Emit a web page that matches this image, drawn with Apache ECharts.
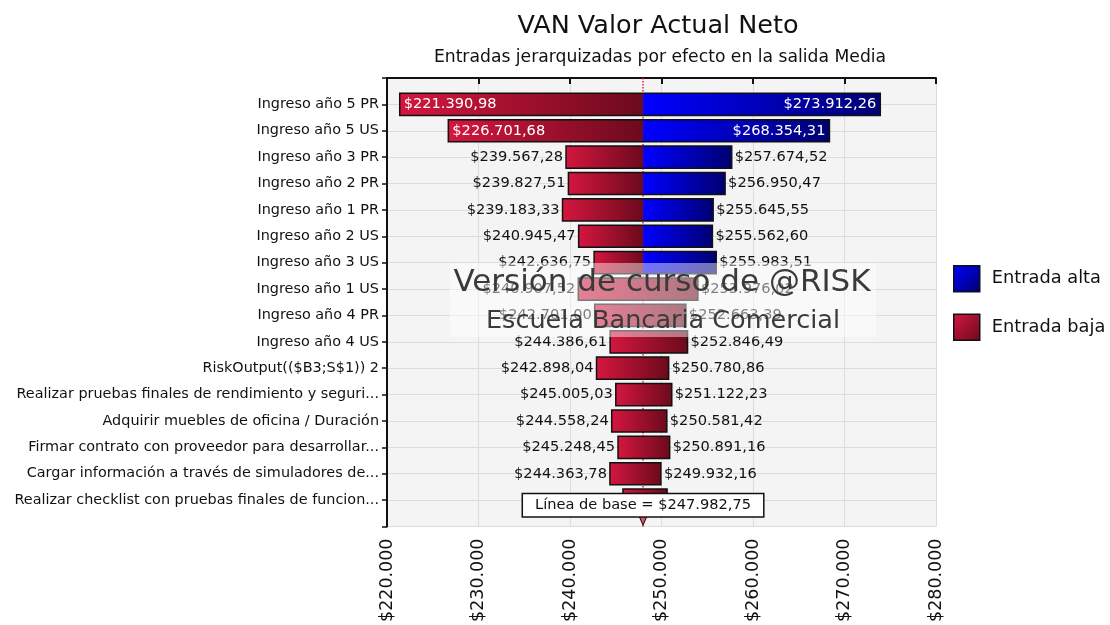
<!DOCTYPE html>
<html>
<head>
<meta charset="utf-8">
<script src="https://cdn.jsdelivr.net/npm/echarts@6/dist/echarts.min.js"></script>
<style>
  html, body { margin: 0; padding: 0; background: #fff; }
  #chart { width: 1110px; height: 625px; }
</style>
</head>
<body>
<div id="chart"></div>
<script>
// datos del tornado
const categories = [
  'Ingreso año 5 PR',
  'Ingreso año 5 US',
  'Ingreso año 3 PR',
  'Ingreso año 2 PR',
  'Ingreso año 1 PR',
  'Ingreso año 2 US',
  'Ingreso año 3 US',
  'Ingreso año 1 US',
  'Ingreso año 4 PR',
  'Ingreso año 4 US',
  'RiskOutput(($B3;S$1)) 2',
  'Realizar pruebas finales de rendimiento y seguri...',
  'Adquirir muebles de oficina / Duración',
  'Firmar contrato con proveedor para desarrollar...',
  'Cargar información a través de simuladores de...',
  'Realizar checklist con pruebas finales de funcion...'
];
const lowValues = [221390.98, 226701.68, 239567.28, 239827.51, 239183.33, 240945.47, 242636.75, 240907.52,
  242701.00, 244386.61, 242898.04, 245005.03, 244558.24, 245248.45, 244363.78, 245790.12];
const highValues = [273912.26, 268354.31, 257674.52, 256950.47, 255645.55, 255562.60, 255983.51, 253976.02,
  252663.39, 252846.49, 250780.86, 251122.23, 250581.42, 250891.16, 249932.16, 250610.47];
// filas donde toda la barra es "Entrada baja"
const lowOnly = [0, 0, 0, 0, 0, 0, 0, 1, 1, 1, 1, 1, 1, 1, 1, 1];
const baseValue = 247982.75;
const xTicks = [220000, 230000, 240000, 250000, 260000, 270000, 280000];

const FONT = '"DejaVu Sans", Verdana, sans-serif';

function money(v, dec) {
  const parts = v.toFixed(dec).split('.');
  const ip = parts[0].replace(/\B(?=(\d{3})+$)/g, '.');
  return '$' + ip + (dec ? ',' + parts[1] : '');
}

const redGrad = () => new echarts.graphic.LinearGradient(0, 0, 1, 0, [
  { offset: 0, color: '#d4163f' }, { offset: 1, color: '#6c0a1c' }]);
const blueGrad = () => new echarts.graphic.LinearGradient(0, 0, 1, 0, [
  { offset: 0, color: '#0000ff' }, { offset: 1, color: '#000072' }]);

const rows = categories.map((c, i) => [i, lowValues[i], highValues[i], lowOnly[i]]);

function barBox(api) {
  const y = api.value(0) + 1;
  const pl = api.coord([api.value(1), y]);
  const pb = api.coord([baseValue, y]);
  const ph = api.coord([api.value(2), y]);
  const h = api.size([0, 1])[1] * 0.84;
  return { pl, pb, ph, h, top: pl[1] - h / 2, cy: pl[1], left0: api.coord([xTicks[0], y])[0] };
}

const chart = echarts.init(document.getElementById('chart'));
chart.setOption({
  animation: false,
  textStyle: { fontFamily: FONT },
  graphic: [
    { type: 'text', z: 10, style: { text: 'VAN Valor Actual Neto', x: 658, y: 26, textAlign: 'center', textVerticalAlign: 'middle', font: '25.5px ' + FONT, fill: '#111' } },
    { type: 'text', z: 10, style: { text: 'Entradas jerarquizadas por efecto en la salida Media', x: 660, y: 58, textAlign: 'center', textVerticalAlign: 'middle', font: '17.2px ' + FONT, fill: '#111' } },
    { type: 'rect', z: 50, shape: { x: 450, y: 263, width: 426, height: 74 }, style: { fill: 'rgba(255,255,255,0.45)' } },
    { type: 'text', z: 51, style: { text: 'Versión de curso de @RISK', x: 662, y: 283, textAlign: 'center', textVerticalAlign: 'middle', font: '31px ' + FONT, fill: '#3a3a3a' } },
    { type: 'text', z: 51, style: { text: 'Escuela Bancaria Comercial', x: 663, y: 321, textAlign: 'center', textVerticalAlign: 'middle', font: '25.5px ' + FONT, fill: '#3a3a3a' } }
  ],
  legend: {
    data: ['Entrada alta', 'Entrada baja'],
    orient: 'vertical',
    left: 953,
    top: 265,
    padding: 0,
    icon: 'rect',
    itemWidth: 26,
    itemHeight: 26,
    itemGap: 21,
    itemStyle: { borderColor: '#111', borderWidth: 1.5 },
    textStyle: { fontSize: 17.8, color: '#111', fontFamily: FONT, padding: [0, 0, 0, 7] }
  },
  grid: {
    left: 387, right: 174, top: 78, bottom: 98,
    show: true, backgroundColor: '#f4f4f4', borderWidth: 0
  },
  xAxis: {
    type: 'value',
    min: xTicks[0],
    max: xTicks[xTicks.length - 1],
    interval: 10000,
    axisLine: { show: true, lineStyle: { color: '#111', width: 2 } },
    axisTick: { show: true, length: 6, lineStyle: { color: '#111', width: 2 } },
    axisLabel: { rotate: 90, fontSize: 17.5, color: '#111', margin: 12, formatter: v => money(v, 0) },
    splitLine: { show: true, lineStyle: { color: '#dcdcdc' } }
  },
  yAxis: {
    type: 'value',
    inverse: true,
    min: 0,
    max: categories.length + 1,
    interval: 1,
    axisLine: { show: true, lineStyle: { color: '#111', width: 2 } },
    axisTick: { show: true, length: 5, lineStyle: { color: '#111', width: 1.5 } },
    axisLabel: { fontSize: 14.4, color: '#111', margin: 8, formatter: v => categories[v - 1] || '' },
    splitLine: { show: true, lineStyle: { color: '#dcdcdc' } }
  },
  series: [
    {
      name: 'Entrada baja',
      type: 'custom',
      z: 2,
      itemStyle: { color: new echarts.graphic.LinearGradient(0, 0, 1, 1, [
        { offset: 0, color: '#d4163f' }, { offset: 1, color: '#6c0a1c' }]) },
      encode: { x: [1, 2], y: 0 },
      data: rows,
      renderItem: function (params, api) {
        const b = barBox(api);
        const x1 = api.value(3) ? b.ph[0] : b.pb[0];
        return { type: 'rect', shape: { x: b.pl[0], y: b.top, width: x1 - b.pl[0], height: b.h }, style: { fill: redGrad() } };
      },
      markLine: {
        silent: true,
        z: 1,
        symbol: 'none',
        label: { show: false },
        lineStyle: { type: 'dotted', color: '#e0204a', width: 1.5 },
        data: [{ xAxis: baseValue }]
      }
    },
    {
      name: 'Entrada alta',
      type: 'custom',
      z: 2,
      itemStyle: { color: new echarts.graphic.LinearGradient(0, 0, 1, 1, [
        { offset: 0, color: '#0000ff' }, { offset: 1, color: '#000072' }]) },
      encode: { x: [1, 2], y: 0 },
      data: rows,
      renderItem: function (params, api) {
        if (api.value(3)) return null;
        const b = barBox(api);
        return { type: 'rect', shape: { x: b.pb[0], y: b.top, width: b.ph[0] - b.pb[0], height: b.h }, style: { fill: blueGrad() } };
      }
    },
    {
      name: 'contorno',
      type: 'custom',
      z: 3,
      silent: true,
      encode: { x: [1, 2], y: 0 },
      data: rows,
      renderItem: function (params, api) {
        const b = barBox(api);
        const inside = (b.pl[0] - b.left0) < 100;
        const font = '14.6px ' + FONT;
        return {
          type: 'group',
          children: [
            { type: 'rect', shape: { x: b.pl[0], y: b.top, width: b.ph[0] - b.pl[0], height: b.h },
              style: { fill: 'none', stroke: '#111', lineWidth: 1.5 } },
            { type: 'text', style: { text: money(api.value(1), 2), x: inside ? b.pl[0] + 4 : b.pl[0] - 3, y: b.cy,
              textAlign: inside ? 'left' : 'right', textVerticalAlign: 'middle', font: font, fill: inside ? '#fff' : '#111' } },
            { type: 'text', style: { text: money(api.value(2), 2), x: inside ? b.ph[0] - 4 : b.ph[0] + 3, y: b.cy,
              textAlign: inside ? 'right' : 'left', textVerticalAlign: 'middle', font: font, fill: inside ? '#fff' : '#111' } }
          ]
        };
      },
      markPoint: {
        silent: true,
        z: 20,
        data: [
          {
            coord: [baseValue, categories.length + 0.19],
            symbol: 'circle',
            symbolSize: 1,
            itemStyle: { color: 'rgba(0,0,0,0)' },
            label: { show: true, position: 'inside', color: '#111', fontSize: 14.6, fontFamily: FONT,
              backgroundColor: '#fff', borderColor: '#111', borderWidth: 1.5, padding: [4, 12, 3, 12],
              formatter: 'Línea de base = ' + money(baseValue, 2) }
          },
          {
            coord: [baseValue, categories.length + 1],
            symbol: 'triangle',
            symbolRotate: 180,
            symbolSize: [8, 9],
            symbolOffset: [0, -6],
            itemStyle: { color: '#e8506a', borderColor: '#111', borderWidth: 1 },
            label: { show: false }
          }
        ]
      }
    }
  ]
});
</script>
</body>
</html>
